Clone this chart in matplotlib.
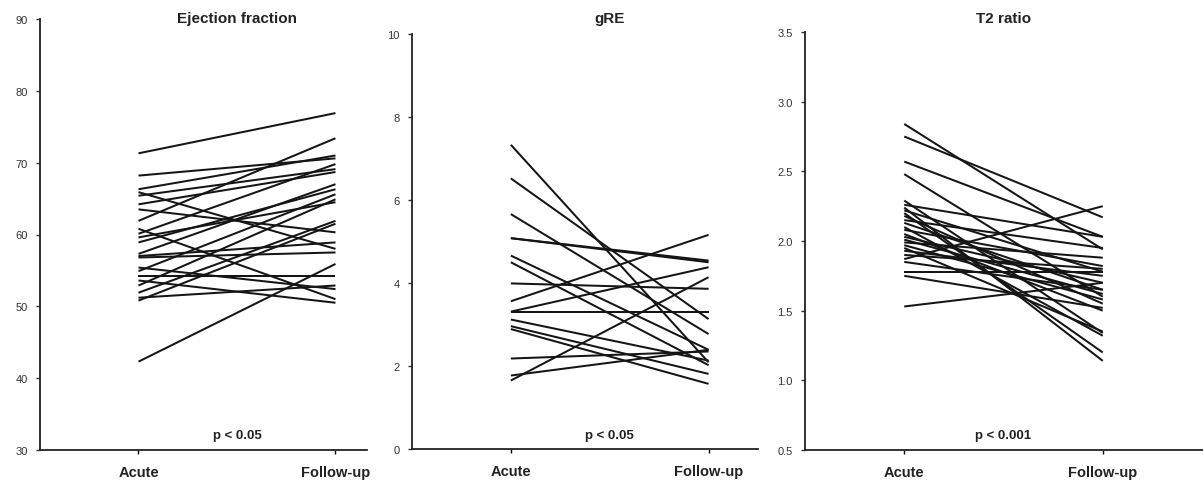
import numpy as np
import matplotlib
matplotlib.use("Agg")
import matplotlib.pyplot as plt
from matplotlib.transforms import blended_transform_factory

plt.rcParams['font.family'] = ['Liberation Sans', 'DejaVu Sans']

# x positions / labels
time_labels = ["Acute", "Follow-up"]

# Ejection fraction (%), paired acute -> follow-up
ef_acute = [71.3, 68.2, 66.3, 65.9, 65.4, 64.2, 63.5, 61.9, 60.8, 60.1, 59.6, 58.9,
            57.3, 56.8, 55.4, 54.9, 54.2, 53.6, 52.9, 51.9, 51.2, 50.8, 42.3, 57.0]
ef_follow = [76.9, 70.6, 71.0, 58.0, 69.1, 68.7, 60.3, 73.4, 51.0, 69.8, 64.5, 66.3,
             67.0, 57.5, 52.4, 65.6, 54.2, 50.5, 64.9, 61.9, 52.9, 61.5, 55.9, 58.9]

# gRE
gre_acute = [7.33, 6.52, 5.66, 5.08, 5.08, 4.66, 4.50, 3.99, 3.56, 3.31, 3.31,
             3.12, 2.96, 2.89, 2.18, 1.77, 1.65]
gre_follow = [2.09, 3.13, 2.77, 4.54, 4.50, 2.39, 2.02, 3.86, 5.16, 3.31, 4.38,
              2.13, 1.81, 1.57, 2.35, 2.39, 4.14]

# T2 ratio
t2_acute = [2.84, 2.75, 2.57, 2.48, 2.29, 2.26, 2.24, 2.22, 2.20, 2.18, 2.15, 2.13,
            2.10, 2.08, 2.05, 2.03, 2.01, 1.99, 1.97, 1.95, 1.93, 1.90, 1.87, 1.85,
            1.78, 1.75, 1.53]
t2_follow = [1.94, 2.17, 2.03, 1.60, 1.34, 2.03, 1.14, 1.78, 1.20, 1.55, 1.95, 1.65,
             1.32, 1.82, 1.50, 1.70, 1.62, 1.88, 1.58, 1.35, 1.75, 1.80, 2.25, 1.65,
             1.78, 1.52, 1.70]

panels = [
    ("Ejection fraction", ef_acute, ef_follow, (30, 90), np.arange(30, 91, 10), "{:.0f}", "p < 0.05",
     [40, 367, 20, 451], 2.16),
    ("gRE", gre_acute, gre_follow, (0, 10), np.arange(0, 11, 2), "{:.0f}", "p < 0.05",
     [412, 758, 35, 450], 2.25),
    ("T2 ratio", t2_acute, t2_follow, (0.5, 3.5), np.arange(0.5, 3.51, 0.5), "{:.1f}", "p < 0.001",
     [805, 1202, 33, 451], 2.5),
]

W, H = 1204, 481
fig = plt.figure(figsize=(W / 100, H / 100), dpi=100)

for title, acute, follow, ylim, yticks, fmt, ptxt, box, xmax in panels:
    x0, x1, ytop, ybot = box
    ax = fig.add_axes([x0 / W, 1 - ybot / H, (x1 - x0) / W, (ybot - ytop) / H])
    for a, f in zip(acute, follow):
        ax.plot([1, 2], [a, f], color="#151515", lw=1.45, solid_capstyle="butt")
    ax.set_xlim(0.5, xmax)
    ax.set_ylim(*ylim)
    ax.set_yticks(yticks)
    ax.set_yticklabels([fmt.format(v) for v in yticks], fontsize=8, color="#444444")
    ax.set_xticks([1, 2])
    ax.set_xticklabels(time_labels, fontsize=10.5, fontweight="bold", color="#222222")
    ax.tick_params(axis="y", length=3, width=1, pad=6, colors="#333333")
    ax.tick_params(axis="x", length=3, width=1, pad=8)
    for s in ["top", "right"]:
        ax.spines[s].set_visible(False)
    for s in ["left", "bottom"]:
        ax.spines[s].set_linewidth(1.3)
        ax.spines[s].set_color("#222222")

    # title at pixel y ~19, centred between the two time points
    tr = blended_transform_factory(ax.transData, fig.transFigure)
    ax.text(1.5, 1 - 19 / H, title, transform=tr, ha="center", va="center",
            fontsize=11, fontweight="bold", color="#222222")
    ax.text(1.5, 1 - 436 / H, ptxt, transform=tr, ha="center", va="center",
            fontsize=9.5, fontweight="bold", color="#222222")

fig.savefig("out.png", dpi=100)
